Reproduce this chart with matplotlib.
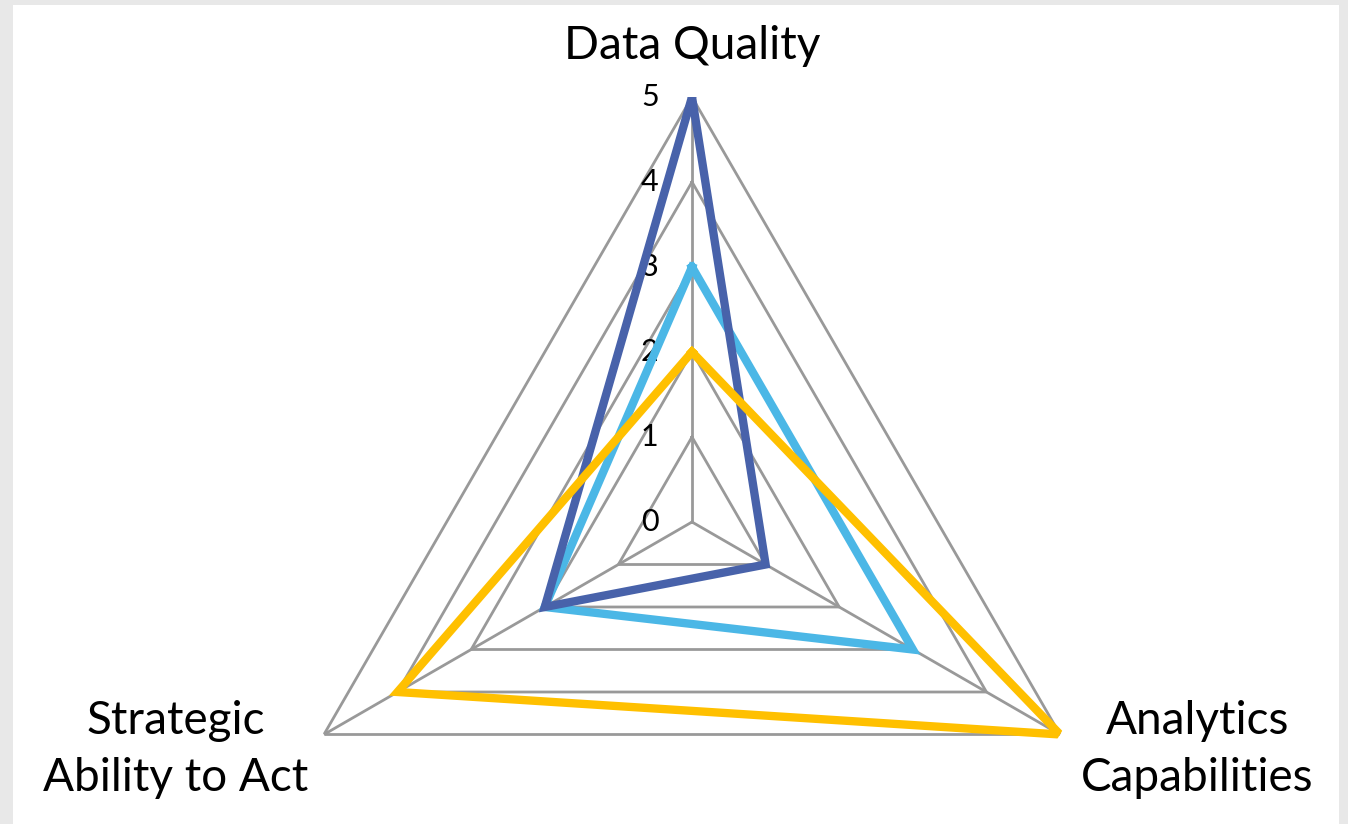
import numpy as np
import matplotlib.pyplot as plt
from matplotlib.patches import Rectangle

plt.rcParams['font.family'] = ['Lato', 'DejaVu Sans']

# radar axes and scores per series
categories = ["Data Quality", "Analytics\nCapabilities", "Strategic\nAbility to Act"]
levels = [0, 1, 2, 3, 4, 5]
series_light = [3, 3, 2]
series_dark = [5, 1, 2]
series_yellow = [2, 5, 4]

col_light = "#4BB7E6"
col_dark = "#4862AA"
col_yellow = "#FFC000"
grid_col = "#999999"

W, H = 1348, 824
fig = plt.figure(figsize=(W / 100, H / 100), dpi=100, facecolor="#E8E8E8")
# white chart area inside the grey frame
fig.patches.append(Rectangle((13 / W, 0), (1339 - 13) / W, (H - 5) / H,
                             transform=fig.transFigure, facecolor="white",
                             edgecolor="none", zorder=-10))

cx, cy, rad = 692, H - 522, 425
ax = fig.add_axes([(cx - rad) / W, (cy - rad) / H, 2 * rad / W, 2 * rad / H],
                  projection="polar")
ax.set_zorder(1)
ax.set_facecolor("none")
ax.set_theta_offset(np.pi / 2)
ax.set_theta_direction(-1)
ax.set_ylim(0, 5)
ax.grid(False)
ax.spines["polar"].set_visible(False)
ax.set_xticks([])
ax.set_yticks([])

n = len(categories)
angles = np.arange(n) * 2 * np.pi / n
closed = np.append(angles, angles[0])

# triangular gridlines and spokes
for lv in levels[1:]:
    ax.plot(closed, [lv] * (n + 1), color=grid_col, lw=2.0, zorder=1)
for a in angles:
    ax.plot([a, a], [0, levels[-1]], color=grid_col, lw=2.0, zorder=1)

# value labels along the top axis
for lv in levels:
    ax.annotate(str(lv), xy=(0, lv), xytext=(-24, 0), textcoords="offset points",
                ha="right", va="center", fontsize=22, color="black")

# series, drawn in stacking order
for vals, col, z in [(series_light, col_light, 3), (series_dark, col_dark, 4),
                     (series_yellow, col_yellow, 5)]:
    v = np.append(vals, vals[0])
    ax.plot(closed, v, color=col, lw=6.0, solid_joinstyle="miter", zorder=z)

# category labels
label_offsets = [(0, 37), (99, -11), (-107, -11)]
for a, name, off in zip(angles, categories, label_offsets):
    ax.annotate(name, xy=(a, levels[-1]), xytext=off, textcoords="offset points",
                ha="center", va="center", fontsize=33, linespacing=1.45,
                annotation_clip=False)

fig.savefig("out.png", dpi=100, facecolor=fig.get_facecolor())
